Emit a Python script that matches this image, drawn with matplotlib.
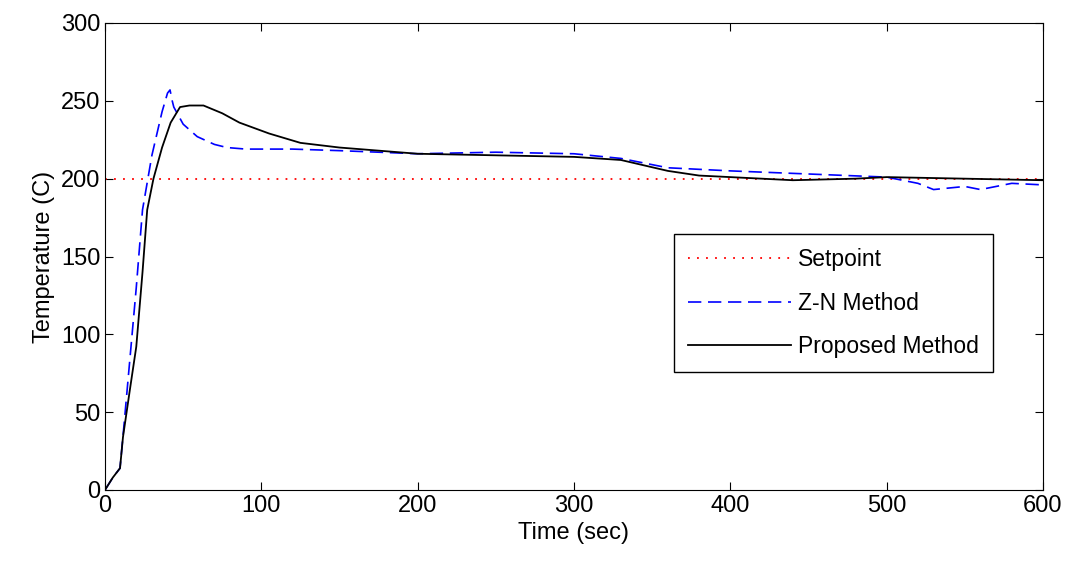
import numpy as np
import matplotlib.pyplot as plt

plt.rcParams['font.family'] = ['Liberation Sans', 'DejaVu Sans']

# readings
t_pm = [0, 5, 9.6, 11.5, 16, 20, 24, 27, 31, 36.5, 42, 48, 54, 63, 75, 86, 105, 125, 150,
        200, 250, 300, 330, 360, 380, 400, 440, 480, 500, 550, 600]
temp_pm = [0, 8, 14, 34, 65, 92, 140, 180, 200, 220, 236, 246, 247, 247, 242, 236, 229, 223, 220,
           216, 215, 214, 212, 205, 202, 201, 199, 200, 201, 200, 199]

t_zn = [0, 5, 9.6, 12, 16, 20, 24, 30, 36.5, 40, 41.6, 43, 44, 50, 59, 70, 78, 90, 120, 150,
        200, 250, 300, 330, 360, 400, 450, 500, 520, 530, 550, 560, 580, 600]
temp_zn = [0, 8, 14, 40, 85, 130, 180, 215, 243, 255, 257, 250, 246, 235, 227, 222, 220, 219, 219, 218,
           216, 217, 216, 213, 207, 205, 203, 201, 197, 193, 195, 193, 197, 196]

setpoint = 200

fig = plt.figure(figsize=(10.65, 5.74), dpi=100)
ax = fig.add_axes([105 / 1065, 1 - 490 / 574, 938 / 1065, 467 / 574])

ax.plot([0, 600], [setpoint, setpoint], color='red', linestyle=(0, (1, 4)), linewidth=1.3, label='Setpoint')
ax.plot(t_zn, temp_zn, color='blue', linestyle=(0, (8, 4)), linewidth=1.2, label='Z-N Method')
ax.plot(t_pm, temp_pm, color='black', linewidth=1.3, label='Proposed Method')

ax.set_xlim(0, 600)
ax.set_ylim(0, 300)
ax.set_xticks(range(0, 601, 100))
ax.set_yticks(range(0, 301, 50))
ax.tick_params(direction='in', labelsize=17, top=True, right=True, length=6)
ax.set_xlabel('Time (sec)', fontsize=17)
ax.set_ylabel('Temperature (C)', fontsize=17)

leg = ax.legend(loc='upper left', bbox_to_anchor=(558 / 938, 1 - 200 / 467), fontsize=16.5,
                fancybox=False, edgecolor='black', framealpha=1, handlelength=4.5,
                handletextpad=0.3, borderpad=0.6, labelspacing=0.9)
leg.get_frame().set_linewidth(1)

fig.savefig('out.png', dpi=100)
